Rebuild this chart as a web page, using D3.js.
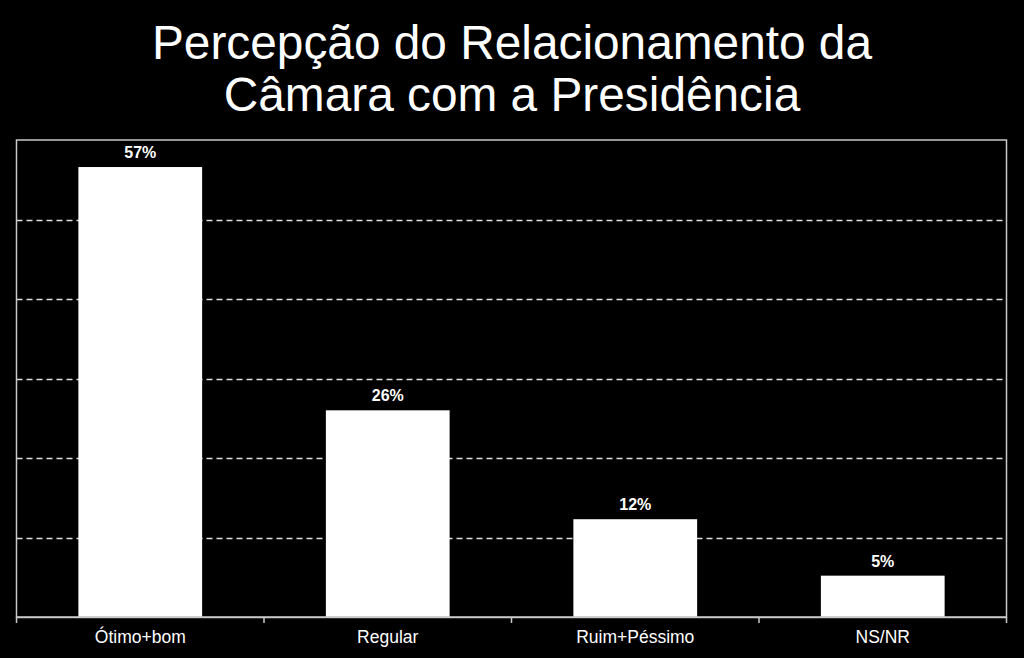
<!DOCTYPE html>
<html>
<head>
<meta charset="utf-8">
<script src="https://cdn.jsdelivr.net/npm/d3@7/dist/d3.min.js"></script>
<style>
  html, body { margin: 0; padding: 0; background: #000; }
  svg { display: block; }
</style>
</head>
<body>
<svg id="chart" width="1024" height="658"></svg>
<script>
const titleLines = ["Percepção do Relacionamento da", "Câmara com a Presidência"];
const categories = ["Ótimo+bom", "Regular", "Ruim+Péssimo", "NS/NR"];
const values = [56.6, 26.0, 12.3, 5.2];
const valueLabels = ["57%", "26%", "12%", "5%"];
const gridTicks = [10, 20, 30, 40, 50];
const yMax = 60;

(function () {
const svg = d3.select("#chart");
const W = 1024, H = 658;
svg.append("rect").attr("width", W).attr("height", H).attr("fill", "#000");

const pLeft = 16.5, pRight = 1006.5, pTop = 140, pBottom = 617;

const x = d3.scaleBand().domain(categories).range([pLeft, pRight])
  .paddingInner(0.5).paddingOuter(0.25);
const y = d3.scaleLinear().domain([0, yMax]).range([pBottom, pTop]);

// title
svg.append("g").selectAll("text").data(titleLines).join("text")
  .attr("x", 512)
  .attr("y", (d, i) => 59 + i * 52)
  .attr("text-anchor", "middle")
  .attr("fill", "#fff")
  .attr("font-family", "Liberation Sans, Arial, sans-serif")
  .attr("font-size", 47.8)
  .text(d => d);

// gridlines
svg.append("g").selectAll("line").data(gridTicks).join("line")
  .attr("x1", pLeft).attr("x2", pRight)
  .attr("y1", d => Math.round(y(d)) + 0.5).attr("y2", d => Math.round(y(d)) + 0.5)
  .attr("stroke", "#e0e0e0").attr("stroke-width", 1.5)
  .attr("stroke-dasharray", "6,4");

// bars
svg.append("g").selectAll("rect").data(categories).join("rect")
  .attr("x", d => x(d))
  .attr("y", (d, i) => y(values[i]))
  .attr("width", x.bandwidth())
  .attr("height", (d, i) => pBottom - y(values[i]))
  .attr("fill", "#fff");

// frame
svg.append("rect")
  .attr("x", pLeft).attr("y", pTop)
  .attr("width", pRight - pLeft).attr("height", pBottom - pTop)
  .attr("fill", "none").attr("stroke", "#c8c8c8").attr("stroke-width", 1.5);

// bottom axis
const xAxis = d3.axisBottom(x).tickSize(0).tickPadding(14);
const ax = svg.append("g").attr("transform", `translate(0,${pBottom})`).call(xAxis);
ax.select(".domain").attr("stroke", "#c8c8c8").attr("stroke-width", 1.5);
ax.selectAll("text")
  .attr("fill", "#fff")
  .attr("font-family", "Liberation Sans, Arial, sans-serif")
  .attr("font-size", 17.5);

// boundary ticks
const step = x.step();
const boundaries = d3.range(categories.length + 1).map(i => pLeft + i * step);
svg.append("g").selectAll("line").data(boundaries).join("line")
  .attr("x1", d => d).attr("x2", d => d)
  .attr("y1", pBottom).attr("y2", pBottom + 6)
  .attr("stroke", "#c8c8c8").attr("stroke-width", 1.5);

// value labels
svg.append("g").selectAll("text").data(categories).join("text")
  .attr("x", d => x(d) + x.bandwidth() / 2)
  .attr("y", (d, i) => y(values[i]) - 9)
  .attr("text-anchor", "middle")
  .attr("fill", "#fff")
  .attr("font-family", "Liberation Sans, Arial, sans-serif")
  .attr("font-weight", "bold")
  .attr("font-size", 16)
  .text((d, i) => valueLabels[i]);
})();
</script>
</body>
</html>
